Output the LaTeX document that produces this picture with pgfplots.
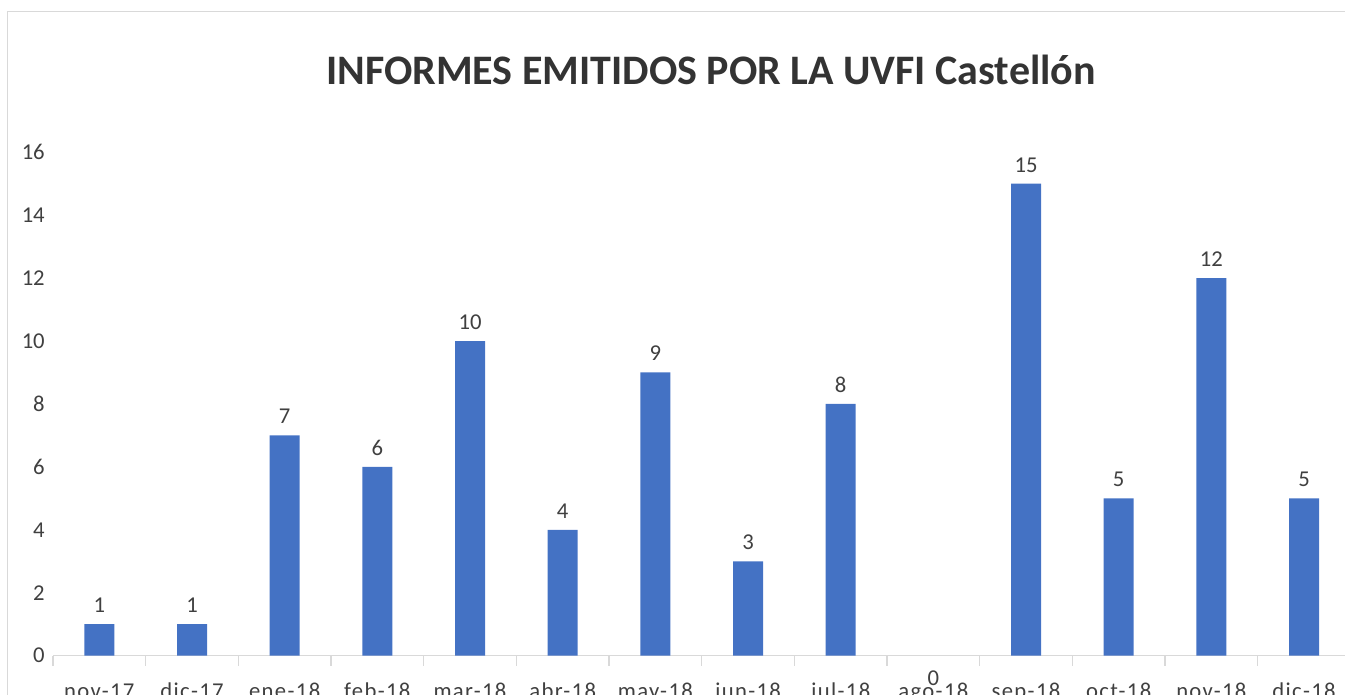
\documentclass[border=0pt]{standalone}
\usepackage{pgfplots}
\pgfplotsset{compat=1.18}
\usepackage{fontspec}
\setmainfont{Carlito}
\newfontfamily\lblfont[LetterSpace=6]{Carlito}
\definecolor{barblue}{HTML}{4472C4}
\definecolor{gridgray}{HTML}{D9D9D9}
\definecolor{txtgray}{HTML}{404040}
\definecolor{titlegray}{HTML}{333333}
\begin{document}
\begin{tikzpicture}
\path[use as bounding box] (0,0) rectangle (1008.75pt,521.25pt);
\clip (0,0) rectangle (1008.75pt,521.25pt);
% chart frame
\draw[gridgray, line width=0.9pt] (5.5pt,-20pt) -- (5.5pt,512.75pt) -- (1030pt,512.75pt);
\node[font=\fontsize{31.5}{38}\selectfont\bfseries, text=titlegray, anchor=center] at (533.25pt,469pt) {INFORMES EMITIDOS POR LA UVFI Castellón};
\begin{axis}[
  at={(39.75pt,29.5pt)}, anchor=south west,
  scale only axis, width=973pt, height=377.55pt,
  xmin=-0.5, xmax=13.5, ymin=0, ymax=16,
  /pgf/number format/assume math mode=true,
  axis y line=none,
  axis x line*=bottom,
  axis line style={gridgray, line width=0.9pt},
  ytick={0,2,...,16},
  ymajorgrids, grid style={gridgray, line width=0.9pt},
  xtick={0,...,13},
  xticklabels={nov-17,dic-17,ene-18,feb-18,mar-18,abr-18,may-18,jun-18,jul-18,ago-18,sep-18,oct-18,nov-18,dic-18},
  major x tick style={draw=none},
  minor xtick={-0.5,0.5,...,13.5},
  minor tick length=7.5pt,
  tick align=outside,
  minor x tick style={gridgray, line width=0.9pt},
  xticklabel style={font=\lblfont\fontsize{17}{20}\selectfont, text=txtgray, anchor=base, yshift=-27.5pt},
  clip=false,
]
\pgfplotsinvokeforeach{0,2,...,16}{
  \node[font=\fontsize{17}{20}\selectfont, text=txtgray, anchor=east, inner sep=0pt] at (axis cs:-0.5,#1) [xshift=-6pt] {#1};
}
\addplot[ybar, bar width=22.5pt, fill=barblue, draw=none,
  nodes near coords,
  every node near coord/.append style={font=\fontsize{17}{20}\selectfont, text=txtgray, anchor=base, yshift=8.7pt, inner sep=0pt}]
coordinates {(0,1) (1,1) (2,7) (3,6) (4,10) (5,4) (6,9) (7,3) (8,8) (10,15) (11,5) (12,12) (13,5)};
\addplot[draw=none, mark=none, nodes near coords,
  every node near coord/.append style={font=\fontsize{17}{20}\selectfont, text=txtgray, anchor=base, yshift=-22.5pt, inner sep=0pt}]
coordinates {(9,0)};
\end{axis}
\end{tikzpicture}
\end{document}
